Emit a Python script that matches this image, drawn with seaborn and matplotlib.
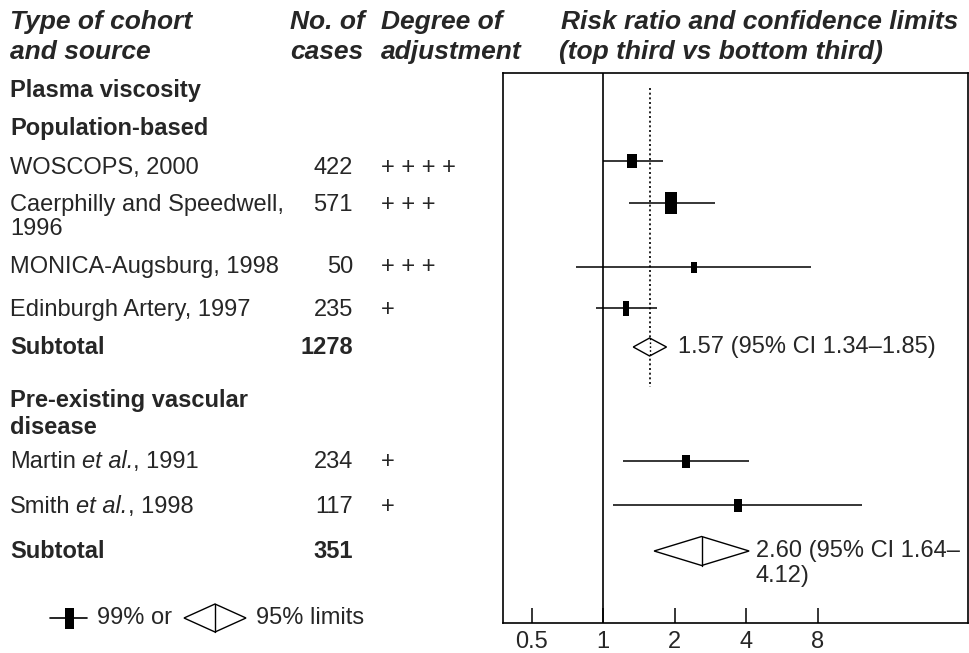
import matplotlib
matplotlib.use("Agg")
import matplotlib.pyplot as plt
from matplotlib.patches import Polygon, Rectangle
from matplotlib.lines import Line2D
from matplotlib.ticker import NullLocator
import seaborn as sns
import pandas as pd

# ---------------- data ----------------
studies = ["WOSCOPS, 2000", "Caerphilly and Speedwell,\n1996", "MONICA-Augsburg, 1998",
           "Edinburgh Artery, 1997", "Martin|et al.|, 1991", "Smith|et al.|, 1998"]
cases = [422, 571, 50, 235, 234, 117]
adjustment = ["+ + + +", "+ + +", "+ + +", "+", "+", "+"]
rr = [1.33, 1.93, 2.41, 1.25, 2.23, 3.69]
ci_low = [1.00, 1.28, 0.77, 0.93, 1.21, 1.10]
ci_high = [1.78, 2.95, 7.49, 1.68, 4.10, 12.3]

subtotal_cases = [1278, 351]
subtotal_rr = [1.57, 2.60]
subtotal_low = [1.34, 1.64]
subtotal_high = [1.85, 4.12]
subtotal_text = ["1.57 (95% CI 1.34\u20131.85)", "2.60 (95% CI 1.64\u2013\n4.12)"]

xticks = [0.5, 1, 2, 4, 8]
xtick_labels = ["0.5", "1", "2", "4", "8"]

# ---------------- layout (pixel rows) ----------------
text_y = [168, 205, 267, 310, 462, 507]
marker_y = [161, 203, 267, 308, 461, 505]
subtotal_y = [347, 551]
diamond_half = [9, 14.5]
box_px = [(10, 14), (12, 22), (6, 11), (6, 15), (8, 13), (8, 13)]

sns.set_style("white")
plt.rcParams["font.family"] = ["Liberation Sans", "DejaVu Sans"]
FS = 17
HFS = 19

W, H = 970, 653
fig = plt.figure(figsize=(W / 100, H / 100), dpi=100)

# background overlay axes in pixel coordinates for table text
bg = fig.add_axes([0, 0, 1, 1])
bg.set_xlim(0, W)
bg.set_ylim(H, 0)
bg.axis("off")
bg.patch.set_alpha(0)

def txt(x, y, s, **kw):
    kw.setdefault("fontsize", FS)
    kw.setdefault("va", "center")
    return bg.text(x, y, s, **kw)

# headers
hdr = dict(fontweight="bold", style="italic", fontsize=HFS)
txt(10, 22, "Type of cohort", **hdr)
txt(10, 52, "and source", **hdr)
txt(290, 22, "No. of", **hdr)
txt(290, 52, "cases", **hdr)
txt(381, 22, "Degree of", **hdr)
txt(381, 52, "adjustment", **hdr)
txt(561, 22, "Risk ratio and confidence limits", **hdr)
txt(559, 52, "(top third vs bottom third)", **hdr)

txt(10, 91, "Plasma viscosity", fontweight="bold")
txt(10, 129, "Population-based", fontweight="bold")
txt(10, 400, "Pre-existing vascular", fontweight="bold")
txt(10, 427, "disease", fontweight="bold")

for name, n, adj, y in zip(studies, cases, adjustment, text_y):
    if "|" in name:
        a, b, c = name.split("|")
        t1 = txt(10, y, a)
        t2 = bg.annotate(b, xy=(1, 0), xycoords=t1, xytext=(6, 0), textcoords="offset pixels",
                         va="bottom", ha="left", fontsize=FS, style="italic")
        bg.annotate(c, xy=(1, 0), xycoords=t2, xytext=(0, 0), textcoords="offset pixels",
                    va="bottom", ha="left", fontsize=FS)
    else:
        for i, line in enumerate(name.split("\n")):
            txt(10, y + i * 24, line)
    txt(353, y, str(n), ha="right")
    txt(381, y, adj, fontweight="light")

for n, y in zip(subtotal_cases, subtotal_y):
    txt(10, y, "Subtotal", fontweight="bold")
    txt(353, y, str(n), ha="right", fontweight="bold")

# legend
bg.add_line(Line2D([50, 87], [618, 618], color="black", lw=1.2))
bg.add_patch(Rectangle((65, 608), 9, 21, color="black", lw=0))
txt(97, 618, "99% or")
bg.add_patch(Polygon([(184, 618), (215, 604), (246, 618), (215, 632)], closed=True,
                     fill=False, ec="black", lw=1.0))
bg.add_line(Line2D([215, 215], [604, 632], color="black", lw=1.0))
txt(256, 618, "95% limits")

# ---------------- forest plot axes ----------------
ax = fig.add_axes([503 / W, 30 / H, 465 / W, 550 / H])
ax.set_xscale("log", base=2)
ax.set_xlim(0.379, 34.4)
ax.set_ylim(623, 73)
ax.patch.set_alpha(0)

ax.axvline(1, color="black", lw=1.2, zorder=1)
dot = (0, (1.2, 1.6))
ax.plot([subtotal_rr[0], subtotal_rr[0]], [88, 387], color="black", lw=1.2,
        linestyle=dot, zorder=1)

ax.hlines(marker_y, ci_low, ci_high, color="black", lw=1.1, zorder=2)

for (w, h), r, y in zip(box_px, rr, marker_y):
    verts = [(-w / 2, -h / 2), (w / 2, -h / 2), (w / 2, h / 2), (-w / 2, h / 2), (-w / 2, -h / 2)]
    sns.scatterplot(x=[r], y=[y], marker=verts, s=(max(w, h) * 0.72) ** 2,
                    color="black", linewidth=0, ax=ax, zorder=3, legend=False)

for i, (r, lo, hi, y) in enumerate(zip(subtotal_rr, subtotal_low, subtotal_high, subtotal_y)):
    hh = diamond_half[i]
    ax.add_patch(Polygon([(lo, y), (r, y - hh), (hi, y), (r, y + hh)], closed=True,
                         fill=True, fc="white", ec="black", lw=1.0, zorder=2))
    if i == 1:
        ax.plot([r, r], [y - hh, y + hh], color="black", lw=1.0, zorder=3)

# dotted line visible through diamond 1
ax.plot([subtotal_rr[0], subtotal_rr[0]], [subtotal_y[0] - 9, subtotal_y[0] + 9], color="black",
        lw=1.0, linestyle=dot, zorder=4)

txt(678, subtotal_y[0], subtotal_text[0])
l1, l2 = subtotal_text[1].split("\n")
txt(756, subtotal_y[1], l1)
txt(756, subtotal_y[1] + 25, l2)

ax.set_xticks(xticks)
ax.set_xticklabels(xtick_labels, fontsize=FS)
ax.xaxis.set_minor_locator(NullLocator())
ax.set_yticks([])
ax.tick_params(axis="x", direction="in", length=11, width=1.1, pad=6, color="black", bottom=True)
for s in ax.spines.values():
    s.set_color("black")
    s.set_linewidth(1.2)
ax.set_xlabel("")
ax.set_ylabel("")

fig.savefig("out.png", dpi=100)
